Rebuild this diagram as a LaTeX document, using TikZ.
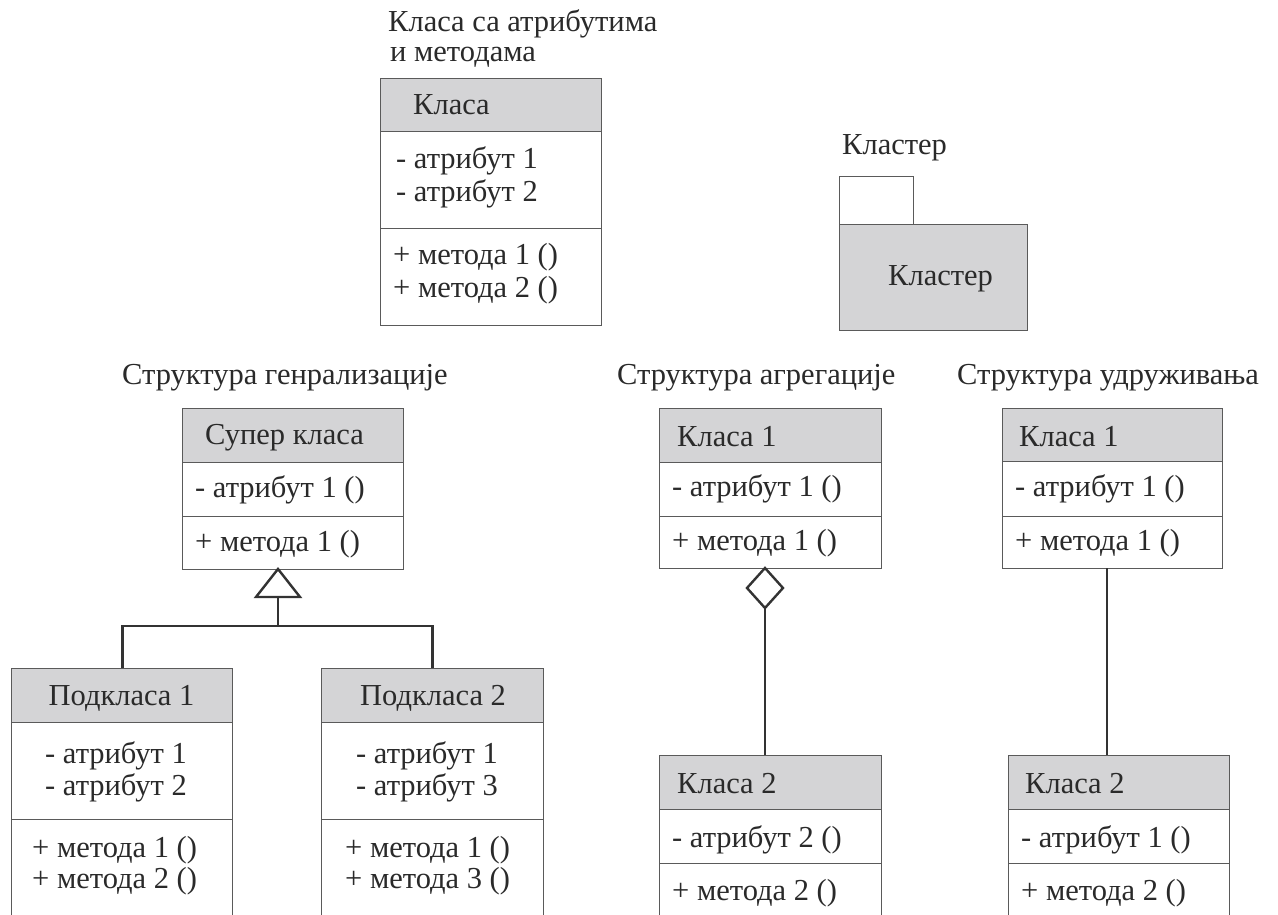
\documentclass[tikz,border=0pt]{standalone}
\usepackage{fontspec}
\setmainfont{Liberation Serif}
\definecolor{ink}{HTML}{2A2A2A}
\definecolor{boxline}{HTML}{5A5A5A}
\definecolor{hdrfill}{HTML}{D4D4D6}
\definecolor{connline}{HTML}{333333}
\begin{document}
\begin{tikzpicture}[x=1pt,y=-1pt,
  box/.style={draw=boxline, line width=1.4pt, fill=white, anchor=north west, inner sep=0pt},
  hdr/.style={box, fill=hdrfill},
  txt/.style={anchor=base west, inner sep=0pt, text=ink, font=\fontsize{30.5}{33}\selectfont},
  ctxt/.style={txt, anchor=base},
  conn/.style={draw=connline, line width=2.8pt},
  tip/.style={draw=connline, line width=2.4pt, fill=white, line join=miter},
]
\clip (0,0) rectangle (1278,915);
\fill[white] (0,0) rectangle (1278,915);

% ---------- class with attributes and methods ----------
\node[txt] (t1) at (388,32) {Класа са атрибутима};
\node[txt] (t2) at (390,62) {и методама};
\node[hdr, minimum width=221pt, minimum height=53pt] (kh) at (380,78) {};
\node[box, minimum width=221pt, minimum height=97pt] (ka) at (380,131) {};
\node[box, minimum width=221pt, minimum height=97pt] (km) at (380,228) {};
\node[txt] (khT) at (413,115) {Класа};
\node[txt] (ka1) at (396,168) {- атрибут 1};
\node[txt] (ka2) at (396,201) {- атрибут 2};
\node[txt] (km1) at (393,264) {+ метода 1 ()};
\node[txt] (km2) at (393,297) {+ метода 2 ()};

% ---------- cluster ----------
\node[txt] (ct) at (842,155) {Кластер};
\node[box, minimum width=74pt, minimum height=48pt] (tab) at (839,176) {};
\node[hdr, minimum width=188pt, minimum height=106pt] (cl) at (839,224) {};
\node[txt] (clT) at (888,285) {Кластер};

% ---------- generalization ----------
\node[txt] (gt) at (122,384) {Структура генрализације};
\node[hdr, minimum width=221pt, minimum height=54pt] (sh) at (182,408) {};
\node[box, minimum width=221pt, minimum height=54pt] (sa) at (182,462) {};
\node[box, minimum width=221pt, minimum height=53pt] (sm) at (182,516) {};
\node[txt] (shT) at (205,444) {Супер класа};
\node[txt] (sa1) at (195,497) {- атрибут 1 ()};
\node[txt] (sm1) at (195,551) {+ метода 1 ()};

\node[hdr, minimum width=221pt, minimum height=54pt] (p1h) at (11,668) {};
\node[box, minimum width=221pt, minimum height=97pt] (p1a) at (11,722) {};
\node[box, minimum width=221pt, minimum height=120pt] (p1m) at (11,819) {};
\node[ctxt] (p1hT) at (121.5,705) {Подкласа 1};
\node[txt] (p1a1) at (45,763) {- атрибут 1};
\node[txt] (p1a2) at (45,795) {- атрибут 2};
\node[txt] (p1m1) at (32,857) {+ метода 1 ()};
\node[txt] (p1m2) at (32,888) {+ метода 2 ()};

\node[hdr, minimum width=222pt, minimum height=54pt] (p2h) at (321,668) {};
\node[box, minimum width=222pt, minimum height=97pt] (p2a) at (321,722) {};
\node[box, minimum width=222pt, minimum height=120pt] (p2m) at (321,819) {};
\node[ctxt] (p2hT) at (433,705) {Подкласа 2};
\node[txt] (p2a1) at (356,763) {- атрибут 1};
\node[txt] (p2a2) at (356,795) {- атрибут 3};
\node[txt] (p2m1) at (345,857) {+ метода 1 ()};
\node[txt] (p2m2) at (345,888) {+ метода 3 ()};

\coordinate (tri) at (278,569);
\coordinate (trib) at (278,597);
\coordinate (fork) at (278,626);
\draw[conn] (p1h.north) |- (fork) -| (p2h.north);
\draw[conn] (fork) -- (trib);
\draw[tip] (tri) -- ++(22,28) -- ++(-44,0) -- cycle;

% ---------- aggregation ----------
\node[txt] (at) at (617,384) {Структура агрегације};
\node[hdr, minimum width=222pt, minimum height=54pt] (a1h) at (659,408) {};
\node[box, minimum width=222pt, minimum height=54pt] (a1a) at (659,462) {};
\node[box, minimum width=222pt, minimum height=52pt] (a1m) at (659,516) {};
\node[txt] (a1hT) at (677,446) {Класа 1};
\node[txt] (a1a1) at (672,496) {- атрибут 1 ()};
\node[txt] (a1m1) at (672,550) {+ метода 1 ()};

\node[hdr, minimum width=222pt, minimum height=54pt] (a2h) at (659,755) {};
\node[box, minimum width=222pt, minimum height=54pt] (a2a) at (659,809) {};
\node[box, minimum width=222pt, minimum height=80pt] (a2m) at (659,863) {};
\node[txt] (a2hT) at (677,793) {Класа 2};
\node[txt] (a2a1) at (672,847) {- атрибут 2 ()};
\node[txt] (a2m1) at (672,900) {+ метода 2 ()};

\coordinate (dtop) at (765,568);
\coordinate (dbot) at (765,608);
\draw[conn] (dbot) -- (dbot |- a2h.north);
\draw[tip] (dtop) -- ++(18,20) -- (dbot) -- ++(-18,-20) -- cycle;

% ---------- association ----------
\node[txt] (ut) at (957,384) {Структура удруживања};
\node[hdr, minimum width=220pt, minimum height=53pt] (u1h) at (1002,408) {};
\node[box, minimum width=220pt, minimum height=55pt] (u1a) at (1002,461) {};
\node[box, minimum width=220pt, minimum height=52pt] (u1m) at (1002,516) {};
\node[txt] (u1hT) at (1019,446) {Класа 1};
\node[txt] (u1a1) at (1015,496) {- атрибут 1 ()};
\node[txt] (u1m1) at (1015,550) {+ метода 1 ()};

\node[hdr, minimum width=221pt, minimum height=54pt] (u2h) at (1008,755) {};
\node[box, minimum width=221pt, minimum height=54pt] (u2a) at (1008,809) {};
\node[box, minimum width=221pt, minimum height=80pt] (u2m) at (1008,863) {};
\node[txt] (u2hT) at (1025,793) {Класа 2};
\node[txt] (u2a1) at (1021,847) {- атрибут 1 ()};
\node[txt] (u2m1) at (1021,900) {+ метода 2 ()};

\coordinate (ubot) at (1107,568);
\draw[conn] (ubot) -- (ubot |- u2h.north);
\end{tikzpicture}
\end{document}
